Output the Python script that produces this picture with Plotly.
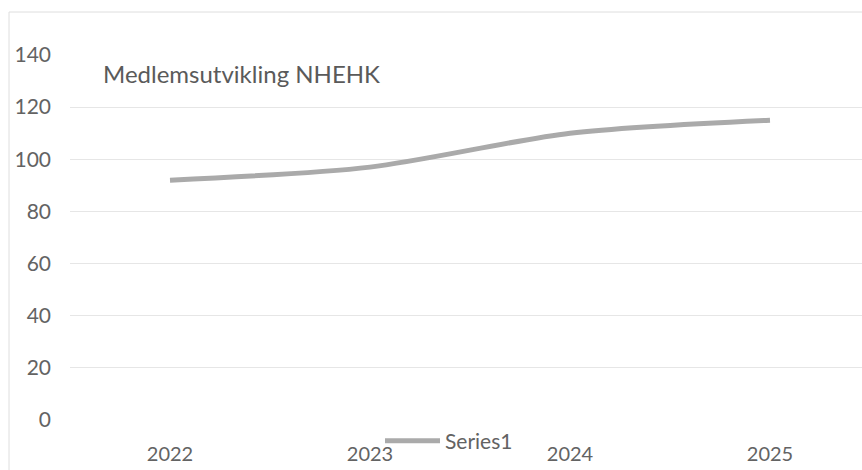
import plotly.graph_objects as go

years = ["2022", "2023", "2024", "2025"]
members = [92, 97, 110, 115]
y_ticks = [0, 20, 40, 60, 80, 100, 120, 140]
title_text = "Medlemsutvikling NHEHK"
series_name = "Series1"

W, H = 862, 470
ml, mr, mt, mb = 70, 0, 55, 50
pw, ph = W - ml - mr, H - mt - mb

def px_x(p):
    return (p - ml) / pw

def px_y(p):
    return (H - mb - p) / ph

txt = "#636363"
font = "Lato, 'Open Sans', sans-serif"

fig = go.Figure()
fig.add_trace(go.Scatter(
    x=years, y=members, mode="lines", name=series_name,
    line=dict(color="#aaaaaa", width=5, shape="spline", smoothing=0.8),
    showlegend=True,
))

fig.update_layout(
    width=W, height=H,
    margin=dict(l=ml, r=mr, t=mt, b=mb, autoexpand=False),
    paper_bgcolor="white", plot_bgcolor="white",
    font=dict(family=font, color=txt, size=20),
    showlegend=True,
    legend=dict(
        orientation="h", x=px_x(380), y=px_y(441), xanchor="left", yanchor="middle",
        bgcolor="rgba(0,0,0,0)", font=dict(size=21, color=txt, family=font),
        itemwidth=55,
    ),
    xaxis=dict(
        type="category", range=[-0.5, 3.46],
        showgrid=False, zeroline=False, showline=False,
        ticks="", ticklabelstandoff=20,
        tickfont=dict(size=20, color=txt, family=font),
    ),
    yaxis=dict(
        range=[0, 140], tickvals=y_ticks,
        showgrid=True, gridcolor="#e6e6e6", gridwidth=1,
        zeroline=False, showline=False, ticks="",
        ticklabelstandoff=18,
        tickfont=dict(size=21, color=txt, family=font),
    ),
    annotations=[dict(
        text=title_text, xref="paper", yref="paper",
        x=px_x(101), y=px_y(73), xanchor="left", yanchor="middle",
        showarrow=False, font=dict(size=24, color="#5a5a5a", family=font),
    )],
    shapes=[dict(
        type="rect", xref="paper", yref="paper",
        x0=px_x(9), x1=px_x(900), y0=px_y(500), y1=px_y(12),
        line=dict(color="#dedede", width=1), fillcolor="rgba(0,0,0,0)", layer="below",
    )],
)

fig.write_html(
    "out.html",
    config={"displayModeBar": False},
    post_script="document.body.style.margin='0';window.dispatchEvent(new Event('resize'));",
)
